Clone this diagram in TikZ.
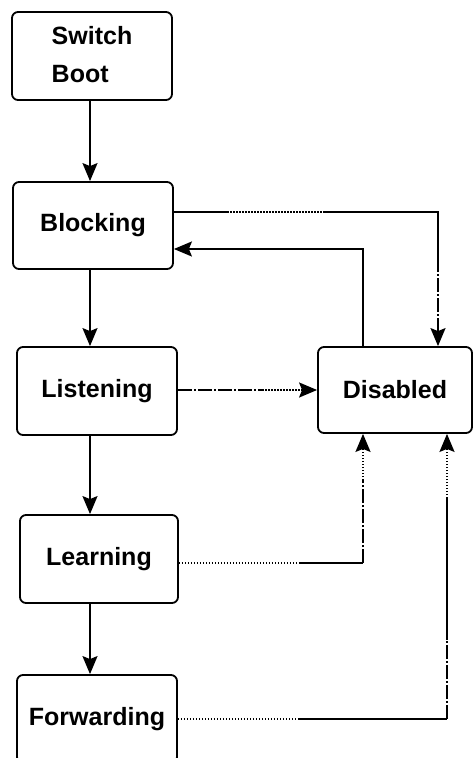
\documentclass[tikz,border=0pt]{standalone}
\usepackage{fontspec}
\setmainfont{Liberation Sans}
\usetikzlibrary{arrows.meta}
\begin{document}
\begin{tikzpicture}[x=1pt,y=-1pt,
  state/.style={draw,line width=1.8pt,rounded corners=6pt,minimum width=160pt,minimum height=88pt,
    font=\fontsize{25}{37}\selectfont\bfseries,inner sep=0pt},
  link/.style={line width=1.8pt},
  tip/.style={-{Stealth[length=18pt,width=15pt,inset=3pt]}},
  dotline/.style={link,dash pattern=on 1.5pt off 1.5pt},
  dashdotline/.style={link,dash pattern=on 14pt off 2pt on 2pt off 2pt}]
\useasboundingbox (0,0) rectangle (472,758);

% states
\node[state] (boot) at (92,56) {\begin{tabular}{@{}l@{}}Switch\\[1pt]Boot\end{tabular}};
\node[state,minimum height=87pt] (blocking) at (93,225.5) {Blocking};
\node[state] (listening) at (97,391) {Listening};
\node[state,minimum width=154pt,minimum height=86pt] (disabled) at (395,390) {Disabled};
\node[state,minimum width=158pt] (learning) at (99,559) {Learning};
\node[state] (forwarding) at (97,719) {Forwarding};

% normal progression
\draw[link,tip] (boot.south -| 90,0) -- (blocking.north -| 90,0);
\draw[link,tip] (blocking.south -| 90,0) -- (listening.north -| 90,0);
\draw[link,tip] (listening.south -| 90,0) -- (learning.north -| 90,0);
\draw[link,tip] (learning.south -| 90,0) -- (forwarding.north -| 90,0);

% Blocking -> Disabled
\coordinate (b1) at (227,212);
\coordinate (b2) at (325,212);
\coordinate (b3) at (438,212);
\coordinate (b4) at (438,258);
\draw[link] (blocking.east |- b1) -- (b1);
\draw[dotline] (b1) -- (b2);
\draw[link] (b2) -- (b3) -- (b4);
\draw[dashdotline,tip] (b4) -- (disabled.north -| b4);

% Disabled -> Blocking
\coordinate (d1) at (363,249);
\draw[link,tip] (disabled.north -| d1) -- (d1) -- (blocking.east |- d1);

% Listening -> Disabled
\coordinate (l1) at (262,390);
\draw[dashdotline] (listening.east |- l1) -- (l1);
\draw[dotline,tip] (l1) -- (disabled.west |- l1);

% Learning -> Disabled
\coordinate (e1) at (299,563);
\coordinate (e2) at (363,563);
\coordinate (e3) at (363,480);
\draw[dotline] (learning.east |- e1) -- (e1);
\draw[link] (e1) -- (e2);
\draw[dashdotline] (e2) -- (e3);
\draw[dotline,tip] (e3) -- (disabled.south -| e3);

% Forwarding -> Disabled
\coordinate (f1) at (299,719);
\coordinate (f2) at (447,719);
\coordinate (f3) at (447,640);
\coordinate (f4) at (447,498);
\draw[dotline] (forwarding.east |- f1) -- (f1);
\draw[link] (f1) -- (f2);
\draw[dashdotline] (f2) -- (f3);
\draw[link] (f3) -- (f4);
\draw[dotline,tip] (f4) -- (disabled.south -| f4);
\end{tikzpicture}
\end{document}
